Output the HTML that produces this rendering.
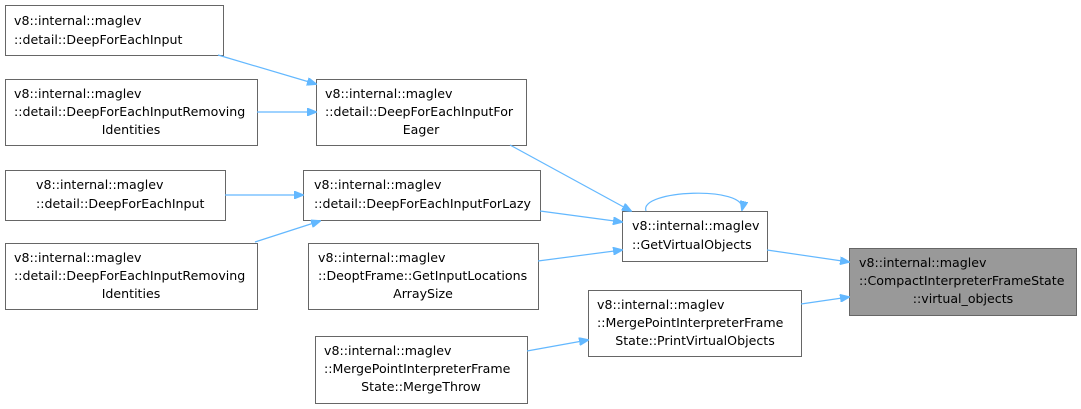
<!DOCTYPE html>
<html><head><meta charset="utf-8"><style>
html,body{margin:0;padding:0;background:#fff;}
svg{display:block;}
text{font-family:"DejaVu Sans","Liberation Sans",sans-serif;font-size:12.6px;fill:#000;}
.n{fill:#fff;stroke:#666;stroke-width:1;}
.e{stroke:#63b8ff;stroke-width:1.2;fill:none;}
.a{fill:#63b8ff;stroke:#63b8ff;}
</style></head><body>
<svg width="1081" height="409" viewBox="0 0 1081 409" xmlns="http://www.w3.org/2000/svg">
<defs><marker id="m" markerWidth="10" markerHeight="8" refX="9" refY="4" orient="auto" markerUnits="userSpaceOnUse"><path d="M0,0 L10,4 L0,8 z" class="a"/></marker></defs>

<g>
<rect class="n" x="5.5" y="5.5" width="218" height="50"/>
<text x="14" y="25">v8::internal::maglev</text><text x="14" y="44">::detail::DeepForEachInput</text>

<rect class="n" x="5.5" y="79.5" width="252" height="66"/>
<text x="14" y="98">v8::internal::maglev</text><text x="14" y="116">::detail::DeepForEachInputRemoving</text><text x="131" y="134" text-anchor="middle">Identities</text>

<rect class="n" x="316.5" y="79.5" width="210" height="66"/>
<text x="325" y="98">v8::internal::maglev</text><text x="325" y="116">::detail::DeepForEachInputFor</text><text x="421" y="134" text-anchor="middle">Eager</text>

<rect class="n" x="5.5" y="170.5" width="220" height="50"/>
<text x="36" y="189">v8::internal::maglev</text><text x="36" y="208">::detail::DeepForEachInput</text>

<rect class="n" x="303.5" y="170.5" width="237" height="50"/>
<text x="314" y="189">v8::internal::maglev</text><text x="314" y="208">::detail::DeepForEachInputForLazy</text>

<rect class="n" x="5.5" y="243.5" width="252" height="66"/>
<text x="14" y="262">v8::internal::maglev</text><text x="14" y="280">::detail::DeepForEachInputRemoving</text><text x="131" y="298" text-anchor="middle">Identities</text>

<rect class="n" x="622.5" y="211.5" width="145" height="50"/>
<text x="632" y="230">v8::internal::maglev</text><text x="632" y="249">::GetVirtualObjects</text>

<rect class="n" x="308.5" y="243.5" width="230" height="66"/>
<text x="318" y="262">v8::internal::maglev</text><text x="318" y="280">::DeoptFrame::GetInputLocations</text><text x="423" y="298" text-anchor="middle">ArraySize</text>

<rect x="849.5" y="248.5" width="227" height="67" fill="#999" stroke="#666"/>
<text x="859" y="267">v8::internal::maglev</text><text x="859" y="285">::CompactInterpreterFrameState</text><text x="963" y="303" text-anchor="middle">::virtual_objects</text>

<rect class="n" x="588.5" y="290.5" width="213" height="66"/>
<text x="597" y="309">v8::internal::maglev</text><text x="597" y="327">::MergePointInterpreterFrame</text><text x="695" y="345" text-anchor="middle">State::PrintVirtualObjects</text>

<rect class="n" x="315.5" y="336.5" width="212" height="67"/>
<text x="324" y="355">v8::internal::maglev</text><text x="324" y="373">::MergePointInterpreterFrame</text><text x="421" y="391" text-anchor="middle">State::MergeThrow</text>
</g>

<g>
<line class="e" x1="218" y1="55" x2="316" y2="84" marker-end="url(#m)"/>
<line class="e" x1="257" y1="112" x2="316" y2="112" marker-end="url(#m)"/>
<line class="e" x1="225" y1="195" x2="303" y2="195" marker-end="url(#m)"/>
<line class="e" x1="255" y1="242" x2="320" y2="221" marker-end="url(#m)"/>
<line class="e" x1="510" y1="145" x2="631" y2="211" marker-end="url(#m)"/>
<line class="e" x1="540" y1="211" x2="622" y2="222" marker-end="url(#m)"/>
<line class="e" x1="538" y1="261" x2="622" y2="250" marker-end="url(#m)"/>
<path class="e" d="M646,211 C638,190 748,185 742,210" marker-end="url(#m)"/>
<line class="e" x1="767" y1="250" x2="849" y2="262" marker-end="url(#m)"/>
<line class="e" x1="801" y1="304" x2="849" y2="297" marker-end="url(#m)"/>
<line class="e" x1="527" y1="351" x2="588" y2="340" marker-end="url(#m)"/>
</g>
</svg>
</body></html>
